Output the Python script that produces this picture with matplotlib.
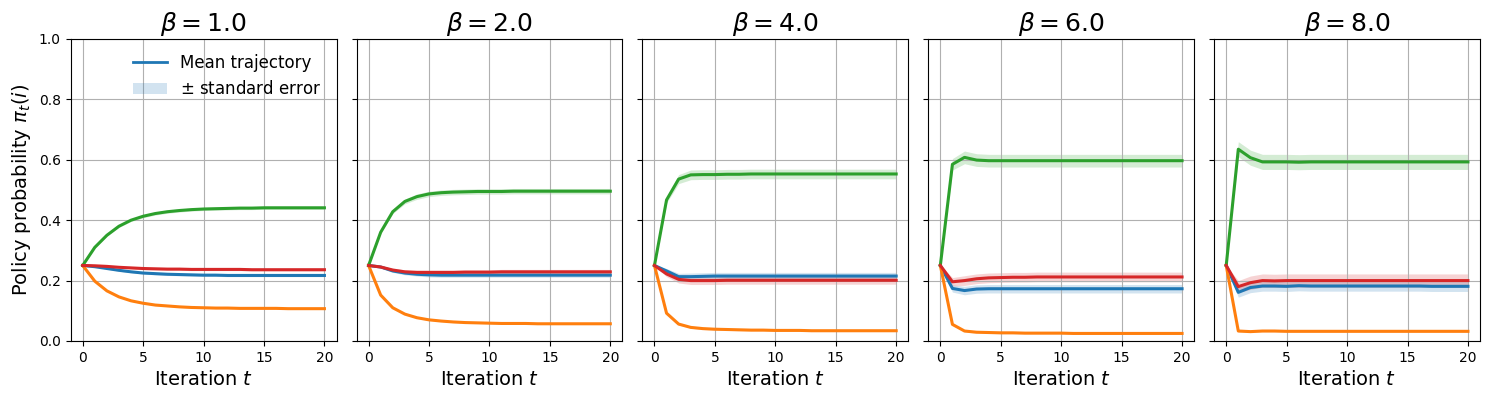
import numpy as np
import matplotlib
matplotlib.use("Agg")
from matplotlib import pyplot as plt
from matplotlib.lines import Line2D
from matplotlib.patches import Patch

# iterations and temperatures
iterations = np.arange(21)
betas = [1.0, 2.0, 4.0, 6.0, 8.0]

# mean trajectories (blue, orange, green, red) per beta
blue_b1 = [0.250, 0.246, 0.240, 0.234, 0.229, 0.225, 0.223, 0.221, 0.220, 0.219, 0.218, 0.218, 0.217, 0.217, 0.217, 0.217, 0.217, 0.217, 0.217, 0.217, 0.217]
orange_b1 = [0.250, 0.198, 0.166, 0.146, 0.133, 0.125, 0.119, 0.116, 0.113, 0.111, 0.110, 0.109, 0.109, 0.108, 0.108, 0.108, 0.108, 0.107, 0.107, 0.107, 0.107]
green_b1 = [0.250, 0.310, 0.350, 0.380, 0.400, 0.413, 0.422, 0.428, 0.432, 0.435, 0.437, 0.438, 0.439, 0.440, 0.440, 0.441, 0.441, 0.441, 0.441, 0.441, 0.441]
red_b1 = [0.250, 0.249, 0.247, 0.244, 0.242, 0.240, 0.239, 0.238, 0.238, 0.237, 0.237, 0.237, 0.237, 0.237, 0.236, 0.236, 0.236, 0.236, 0.236, 0.236, 0.236]

blue_b2 = [0.250, 0.245, 0.232, 0.225, 0.221, 0.219, 0.218, 0.218, 0.218, 0.218, 0.218, 0.218, 0.218, 0.218, 0.218, 0.218, 0.218, 0.218, 0.218, 0.218, 0.218]
orange_b2 = [0.250, 0.152, 0.110, 0.089, 0.077, 0.070, 0.066, 0.063, 0.061, 0.060, 0.059, 0.058, 0.058, 0.058, 0.057, 0.057, 0.057, 0.057, 0.057, 0.057, 0.057]
green_b2 = [0.250, 0.360, 0.428, 0.462, 0.478, 0.487, 0.491, 0.493, 0.494, 0.495, 0.495, 0.495, 0.496, 0.496, 0.496, 0.496, 0.496, 0.496, 0.496, 0.496, 0.496]
red_b2 = [0.250, 0.245, 0.235, 0.229, 0.227, 0.227, 0.227, 0.227, 0.228, 0.228, 0.228, 0.229, 0.229, 0.229, 0.229, 0.229, 0.229, 0.229, 0.229, 0.229, 0.229]

blue_b4 = [0.250, 0.232, 0.213, 0.213, 0.214, 0.215, 0.215, 0.215, 0.215, 0.215, 0.215, 0.215, 0.215, 0.215, 0.215, 0.215, 0.215, 0.215, 0.215, 0.215, 0.215]
orange_b4 = [0.250, 0.092, 0.056, 0.045, 0.041, 0.039, 0.038, 0.037, 0.036, 0.036, 0.035, 0.035, 0.035, 0.034, 0.034, 0.034, 0.034, 0.034, 0.034, 0.034, 0.034]
green_b4 = [0.250, 0.467, 0.536, 0.550, 0.551, 0.551, 0.552, 0.552, 0.553, 0.553, 0.553, 0.553, 0.553, 0.553, 0.553, 0.553, 0.553, 0.553, 0.553, 0.553, 0.553]
red_b4 = [0.250, 0.222, 0.204, 0.200, 0.200, 0.200, 0.201, 0.201, 0.201, 0.201, 0.201, 0.201, 0.201, 0.201, 0.201, 0.201, 0.201, 0.201, 0.201, 0.201, 0.201]

blue_b6 = [0.250, 0.174, 0.167, 0.172, 0.173, 0.173, 0.173, 0.173, 0.173, 0.173, 0.173, 0.173, 0.173, 0.173, 0.173, 0.173, 0.173, 0.173, 0.173, 0.173, 0.173]
orange_b6 = [0.250, 0.055, 0.033, 0.029, 0.028, 0.027, 0.027, 0.026, 0.026, 0.026, 0.026, 0.025, 0.025, 0.025, 0.025, 0.025, 0.025, 0.025, 0.025, 0.025, 0.025]
green_b6 = [0.250, 0.585, 0.608, 0.599, 0.597, 0.597, 0.597, 0.597, 0.597, 0.597, 0.597, 0.597, 0.597, 0.597, 0.597, 0.597, 0.597, 0.597, 0.597, 0.597, 0.597]
red_b6 = [0.250, 0.196, 0.200, 0.206, 0.209, 0.210, 0.211, 0.211, 0.212, 0.212, 0.212, 0.212, 0.212, 0.212, 0.212, 0.212, 0.212, 0.212, 0.212, 0.212, 0.212]

blue_b8 = [0.250, 0.161, 0.177, 0.182, 0.182, 0.181, 0.183, 0.182, 0.182, 0.182, 0.182, 0.182, 0.182, 0.182, 0.182, 0.182, 0.182, 0.181, 0.181, 0.181, 0.181]
orange_b8 = [0.250, 0.033, 0.031, 0.033, 0.033, 0.032, 0.032, 0.032, 0.032, 0.032, 0.032, 0.032, 0.032, 0.032, 0.032, 0.032, 0.032, 0.032, 0.032, 0.032, 0.032]
green_b8 = [0.250, 0.635, 0.607, 0.593, 0.593, 0.593, 0.592, 0.593, 0.593, 0.593, 0.593, 0.593, 0.593, 0.593, 0.593, 0.593, 0.593, 0.593, 0.593, 0.593, 0.593]
red_b8 = [0.250, 0.180, 0.193, 0.200, 0.199, 0.200, 0.200, 0.200, 0.200, 0.200, 0.200, 0.200, 0.200, 0.200, 0.200, 0.200, 0.200, 0.200, 0.200, 0.200, 0.200]

# standard errors (blue, orange, green, red) per beta
se_b1 = [
    [0.0, 0.001, 0.002, 0.003, 0.003, 0.003, 0.004, 0.004, 0.004, 0.004, 0.004, 0.004, 0.004, 0.004, 0.004, 0.004, 0.004, 0.004, 0.004, 0.004, 0.004],
    [0.0, 0.001, 0.001, 0.002, 0.002, 0.002, 0.002, 0.002, 0.002, 0.002, 0.002, 0.002, 0.002, 0.002, 0.002, 0.002, 0.002, 0.002, 0.002, 0.002, 0.002],
    [0.0, 0.002, 0.003, 0.004, 0.004, 0.005, 0.005, 0.005, 0.005, 0.005, 0.005, 0.005, 0.005, 0.005, 0.005, 0.005, 0.005, 0.005, 0.005, 0.005, 0.005],
    [0.0, 0.001, 0.002, 0.003, 0.003, 0.004, 0.004, 0.004, 0.004, 0.004, 0.004, 0.004, 0.004, 0.004, 0.004, 0.004, 0.004, 0.004, 0.004, 0.004, 0.004],
]
se_b2 = [
    [0.0, 0.003, 0.005, 0.006, 0.006, 0.007, 0.007, 0.007, 0.007, 0.007, 0.007, 0.007, 0.007, 0.007, 0.007, 0.007, 0.007, 0.007, 0.007, 0.007, 0.007],
    [0.0, 0.002, 0.002, 0.002, 0.002, 0.002, 0.002, 0.002, 0.002, 0.002, 0.002, 0.002, 0.002, 0.002, 0.002, 0.002, 0.002, 0.002, 0.002, 0.002, 0.002],
    [0.0, 0.004, 0.006, 0.008, 0.009, 0.009, 0.009, 0.009, 0.009, 0.009, 0.009, 0.009, 0.009, 0.009, 0.009, 0.009, 0.009, 0.009, 0.009, 0.009, 0.009],
    [0.0, 0.003, 0.005, 0.007, 0.008, 0.008, 0.008, 0.008, 0.008, 0.008, 0.008, 0.008, 0.008, 0.008, 0.008, 0.008, 0.008, 0.008, 0.008, 0.008, 0.008],
]
se_b4 = [
    [0.0, 0.008, 0.011, 0.012, 0.012, 0.012, 0.012, 0.012, 0.012, 0.012, 0.012, 0.012, 0.012, 0.012, 0.012, 0.012, 0.012, 0.012, 0.012, 0.012, 0.012],
    [0.0, 0.003, 0.003, 0.003, 0.003, 0.003, 0.003, 0.003, 0.003, 0.003, 0.003, 0.003, 0.003, 0.003, 0.003, 0.003, 0.003, 0.003, 0.003, 0.003, 0.003],
    [0.0, 0.010, 0.015, 0.016, 0.016, 0.016, 0.016, 0.016, 0.016, 0.016, 0.016, 0.016, 0.016, 0.016, 0.016, 0.016, 0.016, 0.016, 0.016, 0.016, 0.016],
    [0.0, 0.009, 0.012, 0.013, 0.013, 0.013, 0.013, 0.013, 0.013, 0.013, 0.013, 0.013, 0.013, 0.013, 0.013, 0.013, 0.013, 0.013, 0.013, 0.013, 0.013],
]
se_b6 = [
    [0.0, 0.012, 0.014, 0.014, 0.014, 0.014, 0.014, 0.014, 0.014, 0.014, 0.014, 0.014, 0.014, 0.014, 0.014, 0.014, 0.014, 0.014, 0.014, 0.014, 0.014],
    [0.0, 0.004, 0.003, 0.003, 0.003, 0.003, 0.003, 0.003, 0.003, 0.003, 0.003, 0.003, 0.003, 0.003, 0.003, 0.003, 0.003, 0.003, 0.003, 0.003, 0.003],
    [0.0, 0.019, 0.021, 0.021, 0.021, 0.021, 0.021, 0.021, 0.021, 0.021, 0.021, 0.021, 0.021, 0.021, 0.021, 0.021, 0.021, 0.021, 0.021, 0.021, 0.021],
    [0.0, 0.014, 0.016, 0.016, 0.016, 0.016, 0.016, 0.016, 0.016, 0.016, 0.016, 0.016, 0.016, 0.016, 0.016, 0.016, 0.016, 0.016, 0.016, 0.016, 0.016],
]
se_b8 = [
    [0.0, 0.016, 0.017, 0.017, 0.017, 0.017, 0.017, 0.017, 0.017, 0.017, 0.017, 0.017, 0.017, 0.017, 0.017, 0.017, 0.017, 0.017, 0.017, 0.017, 0.017],
    [0.0, 0.003, 0.003, 0.003, 0.003, 0.003, 0.003, 0.003, 0.003, 0.003, 0.003, 0.003, 0.003, 0.003, 0.003, 0.003, 0.003, 0.003, 0.003, 0.003, 0.003],
    [0.0, 0.025, 0.025, 0.025, 0.025, 0.025, 0.025, 0.025, 0.025, 0.025, 0.025, 0.025, 0.025, 0.025, 0.025, 0.025, 0.025, 0.025, 0.025, 0.025, 0.025],
    [0.0, 0.020, 0.022, 0.022, 0.022, 0.022, 0.022, 0.022, 0.022, 0.022, 0.022, 0.022, 0.022, 0.022, 0.022, 0.022, 0.022, 0.022, 0.022, 0.022, 0.022],
]

means = [
    [blue_b1, orange_b1, green_b1, red_b1],
    [blue_b2, orange_b2, green_b2, red_b2],
    [blue_b4, orange_b4, green_b4, red_b4],
    [blue_b6, orange_b6, green_b6, red_b6],
    [blue_b8, orange_b8, green_b8, red_b8],
]
ses = [se_b1, se_b2, se_b4, se_b6, se_b8]
colors = ['tab:blue', 'tab:orange', 'tab:green', 'tab:red']

fig, axes = plt.subplots(1, 5, figsize=(14.9, 3.99), dpi=100, sharey=True)
fig.subplots_adjust(left=0.0474, right=0.9933, bottom=0.1454, top=0.9023, wspace=0.0752)

for ax, beta, m_list, s_list in zip(axes, betas, means, ses):
    for m, s, c in zip(m_list, s_list, colors):
        m = np.array(m)
        s = np.array(s)
        ax.fill_between(iterations, m - s, m + s, color=c, alpha=0.2, linewidth=0)
        ax.plot(iterations, m, color=c, lw=2.2)
    ax.set_title(r'$\beta = %.1f$' % beta, fontsize=18)
    ax.set_xlabel(r'Iteration $t$', fontsize=14)
    ax.set_ylim(0, 1)
    ax.set_xticks([0, 5, 10, 15, 20])
    ax.grid(True)

axes[0].set_ylabel(r'Policy probability $\pi_t(i)$', fontsize=14)

handles = [Line2D([0], [0], color='tab:blue', lw=2),
           Patch(facecolor='tab:blue', alpha=0.2)]
axes[0].legend(handles, ['Mean trajectory', r'$\pm$ standard error'],
               loc='upper right', frameon=False, fontsize=12)

fig.savefig('out.png', dpi=100)
